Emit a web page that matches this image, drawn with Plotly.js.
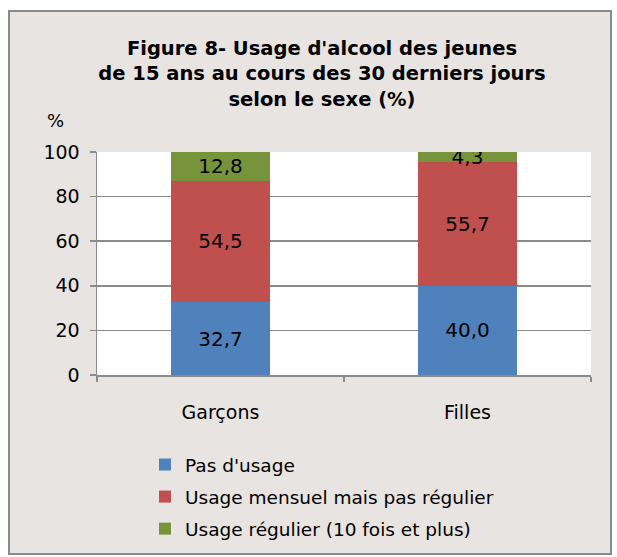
<!DOCTYPE html>
<html>
<head>
<meta charset="utf-8">
<script src="https://cdn.plot.ly/plotly-3.0.1.min.js"></script>
<style>
  html, body { margin: 0; padding: 0; background: #ffffff; }
  #frame { position: absolute; left: 8px; top: 10px; width: 604px; height: 545px;
           box-sizing: border-box; border: 2px solid #8a8a8a; background: #E8E4E1; }
  #chart { width: 600px; height: 541px; }
</style>
</head>
<body>
<div id="frame"><div id="chart"></div></div>
<script>
const categories = ["Garçons", "Filles"];
const pasUsage = [32.7, 40.0];
const usageMensuel = [54.5, 55.7];
const usageRegulier = [12.8, 4.3];
const seriesNames = ["Pas d'usage", "Usage mensuel mais pas régulier", "Usage régulier (10 fois et plus)"];
const seriesColors = ["#4F81BD", "#C0504D", "#77933C"];
const yTicks = [0, 20, 40, 60, 80, 100];

const font = "'DejaVu Sans', sans-serif";
const seriesValues = [pasUsage, usageMensuel, usageRegulier];
const traces = seriesValues.map((vals, i) => ({
  type: "bar",
  x: categories,
  y: vals,
  name: seriesNames[i],
  legendgroup: "g" + i,
  marker: { color: seriesColors[i], line: { width: 0 } },
  texttemplate: "%{y:.1f}",
  textposition: "inside",
  insidetextanchor: "middle",
  textangle: 0,
  constraintext: "none",
  textfont: { family: font, size: 20, color: "#000000" },
  hoverinfo: "none"
}));

const layout = {
  width: 600, height: 541,
  margin: { l: 87, r: 19, t: 140, b: 178, autoexpand: false },
  paper_bgcolor: "#E8E4E1",
  plot_bgcolor: "#FFFFFF",
  barmode: "stack",
  bargap: 0.6,
  separators: ", ",
  font: { family: font, size: 18, color: "#000000" },
  title: {
    text: "<b>Figure 8- Usage d'alcool des jeunes<br>de 15 ans au cours des 30 derniers jours<br>selon le sexe (%)</b>",
    font: { family: font, size: 19.5, color: "#000000" },
    x: 0.52, xref: "container", xanchor: "center",
    y: 1 - 43 / 541, yref: "container", yanchor: "top"
  },
  xaxis: {
    type: "category",
    showline: true, linecolor: "#8a8a8a", linewidth: 1.5,
    ticks: "outside", tickson: "boundaries", ticklen: 5, tickcolor: "#8a8a8a", tickwidth: 1.5,
    showgrid: false, tickangle: 0,
    tickfont: { family: font, size: 19, color: "#000000" },
    ticklabelstandoff: 20
  },
  yaxis: {
    range: [0, 100], tickvals: yTicks,
    showline: true, linecolor: "#8a8a8a", linewidth: 1.5,
    ticks: "outside", ticklen: 6, tickcolor: "#8a8a8a", tickwidth: 1.5,
    showgrid: true, gridcolor: "#8a8a8a", gridwidth: 1.5,
    zeroline: false,
    tickfont: { family: font, size: 19, color: "#000000" },
    ticklabelstandoff: 6
  },
  legend: {
    xref: "container", yref: "container",
    x: 135 / 600, y: 1 - 434 / 541, xanchor: "left", yanchor: "top",
    traceorder: "grouped", tracegroupgap: 5,
    bgcolor: "rgba(0,0,0,0)",
    font: { family: font, size: 18.5, color: "#000000" }
  },
  annotations: [{
    text: "%", xref: "paper", yref: "paper", x: -0.085, y: 255 / 223,
    xanchor: "center", yanchor: "middle", showarrow: false,
    font: { family: font, size: 18, color: "#000000" }
  }]
};

Plotly.newPlot("chart", traces, layout, { displayModeBar: false, staticPlot: true });
</script>
</body>
</html>
